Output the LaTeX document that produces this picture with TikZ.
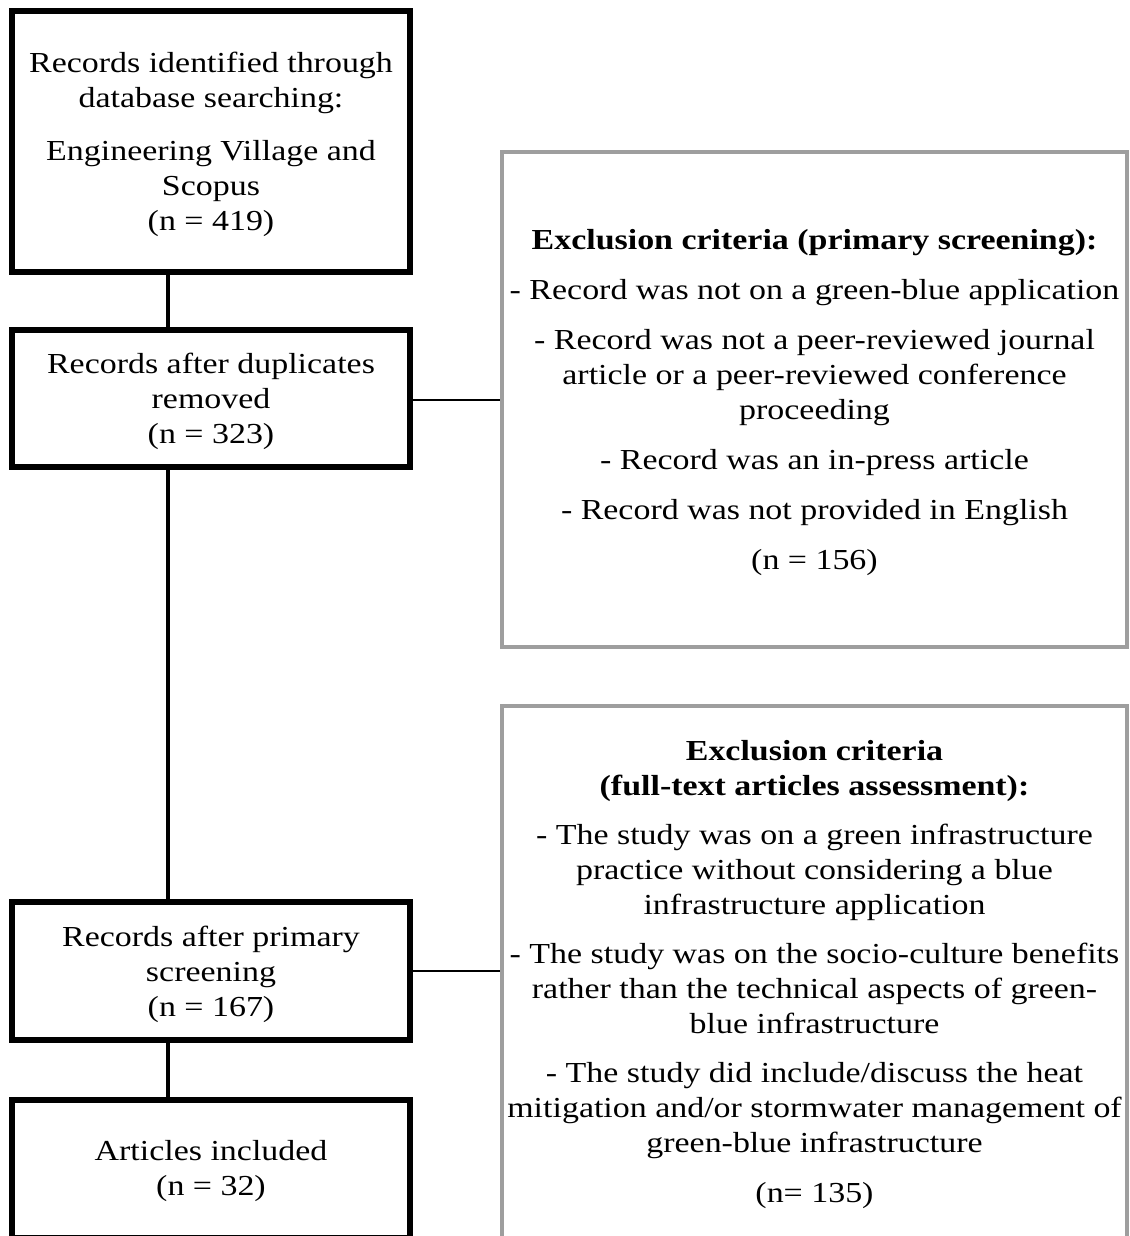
\documentclass[tikz,border=0pt]{standalone}
\usepackage{fontspec}
\setmainfont{Liberation Serif}[FakeStretch=1.17]
\usetikzlibrary{calc}

\begin{document}
\begin{tikzpicture}[x=0.5pt, y=-0.5pt,
	blackbox/.style={draw=black, line width=3.3pt, fill=white, minimum width=199pt, inner sep=0pt},
	graybox/.style={draw=black!38, line width=2pt, fill=white, minimum width=312.5pt, inner sep=0pt},
	boxtext/.style={inner sep=0pt, align=center},
	vline/.style={line width=2.2pt},
	hline/.style={line width=0.8pt}] % {{{
\fontsize{14.5}{17.5}\selectfont
\useasboundingbox[fill=white] (0,0) rectangle (1129,1236);
% left column
\node[blackbox, minimum height=130.5pt] (ident) at (211,141.5) {};
\node[boxtext] (identtxt) at ([yshift=-1.5pt]ident.center) {Records identified through\\ database searching:\\[9pt] Engineering Village and\\ Scopus\\ (n = 419)};
\node[blackbox, minimum height=68.5pt] (dup) at (211,398.5) {};
\node[boxtext] (duptxt) at ([yshift=-1.5pt]dup.center) {Records after duplicates\\ removed\\ (n = 323)};
\node[blackbox, minimum height=69pt] (prim) at (211,971) {};
\node[boxtext] (primtxt) at ([yshift=-1.5pt]prim.center) {Records after primary\\ screening\\ (n = 167)};
\node[blackbox, minimum height=69pt] (incl) at (211,1169) {};
\node[boxtext] (incltxt) at ([yshift=-1pt]incl.center) {Articles included\\ (n = 32)};
% right column
\node[graybox, minimum height=247.5pt] (exclA) at (814.5,399.5) {};
\node[boxtext] (exclAtxt) at ([yshift=-1.5pt]exclA.center) {\textbf{Exclusion criteria (primary screening):}\\[7.5pt]
	- Record was not on a green-blue application\\[7.5pt]
	- Record was not a peer-reviewed journal\\ article or a peer-reviewed conference\\ proceeding\\[7.5pt]
	- Record was an in-press article\\[7.5pt]
	- Record was not provided in English\\[7.5pt]
	(n = 156)};
\node[graybox, minimum height=266pt] (exclB) at (814.5,972) {};
\node[boxtext] (exclBtxt) at ([yshift=-1.2pt]exclB.center) {\textbf{Exclusion criteria}\\ \textbf{(full-text articles assessment):}\\[7pt]
	- The study was on a green infrastructure\\ practice without considering a blue\\ infrastructure application\\[7pt]
	- The study was on the socio-culture benefits\\ rather than the technical aspects of green-\\ blue infrastructure\\[7pt]
	- The study did include/discuss the heat\\ mitigation and/or stormwater management of\\ green-blue infrastructure\\[7.5pt]
	(n= 135)};
% connectors
\draw[vline] ([xshift=-21.5pt]ident.south) -- ([xshift=-21.5pt]dup.north);
\draw[vline] ([xshift=-21.5pt]dup.south) -- ([xshift=-21.5pt]prim.north);
\draw[vline] ([xshift=-21.5pt]prim.south) -- ([xshift=-21.5pt]incl.north);
\draw[hline] ([yshift=-0.75pt]dup.east) -- ([yshift=-0.75pt]dup.east -| exclA.west);
\draw[hline] (prim.east) -- (prim.east -| exclB.west);
\end{tikzpicture} % }}}
\end{document}
